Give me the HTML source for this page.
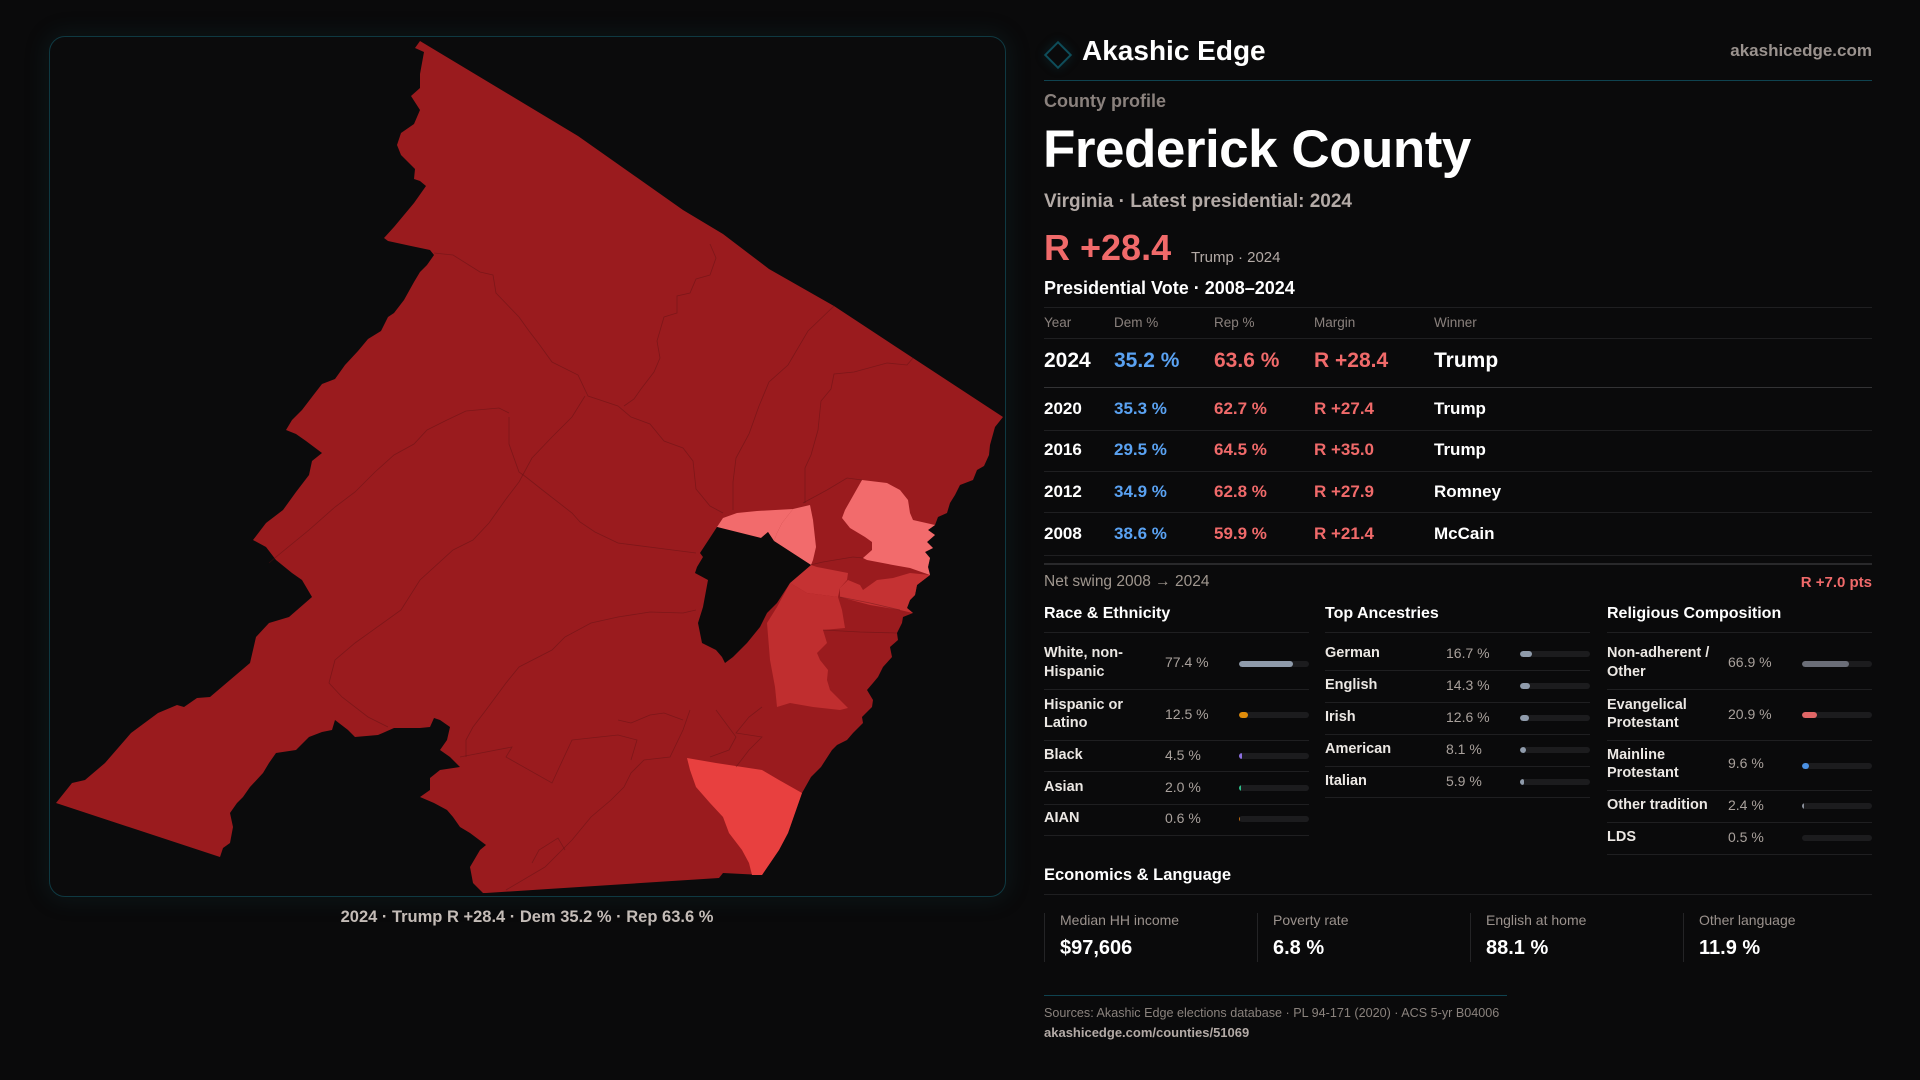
<!DOCTYPE html>
<html><head><meta charset="utf-8">
<style>
*{margin:0;padding:0;box-sizing:border-box}
html,body{width:1920px;height:1080px;background:#0a0a0b;overflow:hidden}
body{position:relative;font-family:"Liberation Sans",sans-serif;color:#fff}
.a{position:absolute;white-space:nowrap;line-height:1}
.b{font-weight:bold}
.hl{position:absolute;height:1px;background:#1f1f21}
.trk{position:absolute;height:6px;width:70px;background:#1c1c1e;border-radius:3px;overflow:hidden}
.trk i{position:absolute;left:0;top:0;height:6px;border-radius:3px}
.lab{font-size:14.5px;font-weight:bold;color:#ece8e4}
.val{font-size:14px;color:#a9a19c}
.th{font-size:13.5px;color:#8a817d}
.r2{font-size:17px;font-weight:bold}
.dem{color:#5aa2f2}
.rep{color:#f06a6a}
.sec{font-size:16px;font-weight:bold;color:#fff}
.el{font-size:14px;color:#9b928d}
.ev{font-size:20px;font-weight:bold;color:#fff}
.vb{position:absolute;top:913px;width:1px;height:49px;background:#242426}
</style></head><body>

<!-- map box -->
<div style="position:absolute;left:49px;top:36px;width:957px;height:861px;border:1px solid #0f3942;border-radius:16px;background:#0b0b0c;box-shadow:0 0 22px 4px rgba(20,70,80,0.18)"></div>

<svg style="position:absolute;left:0;top:0" width="1920" height="1080" viewBox="0 0 1920 1080">
<polygon fill="#9a1b1e" points="420,41 578,136 683,210 723,234 769,269 834,306 913,358 1003,417 995,427 990,445 989,455 984,466 977,470 973,480 960,485 955,495 950,503 947,513 938,517 935,525 928,530 935,535 927,542 933,548 925,552 930,558 928,567 930,575 917,585 915,595 910,600 907,608 913,613 903,617 902,623 897,633 898,640 890,647 892,657 883,667 878,677 873,683 867,690 873,700 872,707 862,717 863,723 853,733 847,740 837,745 832,750 821,767 811,777 802,793 788,833 779,850 762,875 723,873 719,878 486,893 483,893 473,883 470,867 480,850 486,845 470,833 460,827 453,817 447,810 434,803 420,797 430,790 430,778 440,770 460,767 450,757 440,750 447,740 450,727 440,720 434,718 430,727 420,728 394,728 378,735 355,737 348,730 335,720 332,730 322,732 309,737 296,750 276,753 269,763 263,773 250,787 243,797 237,803 230,813 233,827 230,843 223,848 220,857 56,803 72,783 85,780 105,763 131,733 158,713 177,705 184,707 197,698 210,697 250,663 256,637 269,623 289,617 312,597 302,580 292,573 276,560 266,547 253,540 266,523 283,510 296,492 309,475 312,461 322,453 306,441 296,434 286,430 292,420 302,410 315,393 322,384 335,379 345,365 358,351 368,339 381,331 388,317 394,313 404,300 414,282 420,272 427,265 434,255 430,250 411,246 388,241 384,238 394,227 404,215 414,203 426,186 420,181 414,179 415,169 401,155 397,145 401,133 414,124 420,110 411,96 420,88 420,74 424,52 415,48"/>
<!-- pink A -->
<polygon fill="#f26b6c" points="717,527 723,518 737,513 757,511 793,509 782,523 777,533 774,541 768,532 761,538"/>
<!-- pink B -->
<polygon fill="#f26b6c" points="793,509 810,505 813,520 816,547 813,560 811,565 774,541 777,533 782,523"/>
<!-- pink C -->
<polygon fill="#f26b6c" points="862,480 887,483 900,490 908,500 910,513 913,520 935,525 928,530 935,535 927,542 933,548 925,552 930,558 928,567 930,575 910,568 893,565 867,560 863,558 872,550 872,542 865,537 850,528 842,518 845,510"/>
<!-- E -->
<polygon fill="#c53233" points="811,565 817,567 848,573 847,580 840,588 838,597 807,593 790,583"/>
<!-- F -->
<polygon fill="#c53233" points="840,588 848,580 860,585 863,590 877,580 893,578 910,573 930,575 917,585 915,595 910,600 907,608 913,613 900,610 870,605 840,597"/>
<!-- G -->
<polygon fill="#c02e2f" points="790,583 807,593 838,597 842,610 845,628 823,630 827,643 817,653 820,660 828,670 827,680 830,690 837,697 848,708 840,710 813,707 790,703 777,707 775,687 770,660 767,623 777,607"/>
<!-- H -->
<polygon fill="#e8403f" points="687,758 716,763 762,770 779,780 802,793 788,833 779,850 762,875 752,875 749,863 742,850 729,833 723,817 710,803 696,787 690,770"/>
<!-- black hole -->
<polygon fill="#0b0a0a" points="717,527 761,538 768,532 774,541 811,565 790,583 777,603 767,613 760,627 747,643 733,657 725,663 722,657 716,650 702,643 698,623 703,607 708,580 695,573 697,567 703,557 700,553"/>
<g fill="none" stroke="#5a1214" stroke-width="0.8" stroke-opacity="0.45">
<polyline points="434,253 453,255 480,272 493,275 496,293 519,317 529,331 539,344 552,362 578,375 588,396 618,406 631,417 650,424 664,441 683,448 693,461 696,489 710,506 723,513"/>
<polyline points="710,244 716,258 710,275 696,279 690,293 677,296 677,313 664,317 657,341 660,358 654,372 641,389 634,399 624,406"/>
<polyline points="834,306 808,331 788,365 769,382 759,406 749,434 736,458 733,482 733,510"/>
<polyline points="913,358 907,365 887,363 854,372 834,374 831,389 821,401 818,430 811,455 805,468 805,503"/>
<polyline points="585,396 572,417 552,437 532,458 519,482 506,499 489,523 473,540 453,550 420,580 401,610 355,643 335,660 329,683 342,697 368,717 388,727"/>
<polyline points="509,413 499,408 466,411 447,420 427,430 414,444 394,455 375,472 355,492 335,507 309,530 276,557 269,563"/>
<polyline points="509,417 509,444 519,472 526,477 545,492 572,513 580,522 595,532 618,543 657,548 696,553"/>
<polyline points="696,610 683,613 650,612 618,617 591,623 565,637 552,650 519,667 506,683 486,710 473,727 466,740 466,757"/>
<polyline points="690,710 683,730 670,757 644,760 631,773 624,787 611,800 591,817 572,840 545,867 506,890"/>
<polyline points="716,710 736,737 729,750 710,757"/>
<polyline points="762,707 749,717 736,733 762,737 749,750 736,767"/>
<polyline points="572,740 618,735 637,740 631,760"/>
<polyline points="460,757 512,747 506,757 552,783 558,770 572,740"/>
<polyline points="618,720 631,723 650,715 664,713 683,720"/>
<polyline points="532,863 539,850 558,838 565,850"/>
<polyline points="803,503 827,490 847,478 862,480"/>
<polyline points="810,565 823,562 853,557 863,558"/>
<polyline points="840,597 870,603 900,610"/>
<polyline points="823,630 860,632 897,633"/>
</g>
</svg>

<div class="a b" style="left:0;width:1054px;text-align:center;top:909px;font-size:16.5px;color:#c4bcb7">2024 · Trump R +28.4 · Dem 35.2 % · Rep 63.6 %</div>

<!-- header -->
<div style="position:absolute;left:1048px;top:45px;width:20px;height:20px;border:2px solid #0e4d5a;transform:rotate(45deg);box-shadow:0 0 10px rgba(14,77,90,0.35)"></div>
<div class="a b" style="left:1082px;top:37px;font-size:28px;color:#fff">Akashic Edge</div>
<div class="a b" style="right:48px;top:41.6px;font-size:17px;color:#9a928e">akashicedge.com</div>
<div class="hl" style="left:1044px;top:80px;width:828px;background:#0f4350"></div>

<div class="a b" style="left:1044px;top:91.7px;font-size:18px;color:#8a817d">County profile</div>
<div class="a b" style="left:1043px;top:123px;font-size:53px;letter-spacing:-0.5px;color:#fff">Frederick County</div>
<div class="a b" style="left:1044px;top:191.9px;font-size:19px;color:#b3aaa6">Virginia · Latest presidential: 2024</div>
<div class="a b" style="left:1044px;top:229.5px;font-size:36px;color:#f06a6a">R +28.4</div>
<div class="a" style="left:1191px;top:250.3px;font-size:15px;color:#b3aaa6">Trump · 2024</div>
<div class="a b" style="left:1044px;top:278.8px;font-size:18px;color:#fff">Presidential Vote · 2008–2024</div>
<div class="hl" style="left:1044px;top:307px;width:828px"></div>

<!-- table -->
<div class="a th" style="left:1044px;top:315.6px">Year</div>
<div class="a th" style="left:1114px;top:315.6px">Dem %</div>
<div class="a th" style="left:1214px;top:315.6px">Rep %</div>
<div class="a th" style="left:1314px;top:315.6px">Margin</div>
<div class="a th" style="left:1434px;top:315.6px">Winner</div>
<div class="hl" style="left:1044px;top:338px;width:828px"></div>

<div class="a b" style="left:1044px;top:350.2px;font-size:21px;color:#fff">2024</div>
<div class="a b dem" style="left:1114px;top:350.2px;font-size:21px">35.2 %</div>
<div class="a b rep" style="left:1214px;top:350.2px;font-size:21px">63.6 %</div>
<div class="a b rep" style="left:1314px;top:350.2px;font-size:21px">R +28.4</div>
<div class="a b" style="left:1434px;top:350.2px;font-size:21px;color:#fff">Trump</div>
<div class="hl" style="left:1044px;top:387px;width:828px;background:#333335"></div>

<div class="a r2" style="left:1044px;top:399.6px">2020</div>
<div class="a r2 dem" style="left:1114px;top:399.6px">35.3 %</div>
<div class="a r2 rep" style="left:1214px;top:399.6px">62.7 %</div>
<div class="a r2 rep" style="left:1314px;top:399.6px">R +27.4</div>
<div class="a r2" style="left:1434px;top:399.6px">Trump</div>
<div class="hl" style="left:1044px;top:430px;width:828px"></div>

<div class="a r2" style="left:1044px;top:440.6px">2016</div>
<div class="a r2 dem" style="left:1114px;top:440.6px">29.5 %</div>
<div class="a r2 rep" style="left:1214px;top:440.6px">64.5 %</div>
<div class="a r2 rep" style="left:1314px;top:440.6px">R +35.0</div>
<div class="a r2" style="left:1434px;top:440.6px">Trump</div>
<div class="hl" style="left:1044px;top:471px;width:828px"></div>

<div class="a r2" style="left:1044px;top:482.6px">2012</div>
<div class="a r2 dem" style="left:1114px;top:482.6px">34.9 %</div>
<div class="a r2 rep" style="left:1214px;top:482.6px">62.8 %</div>
<div class="a r2 rep" style="left:1314px;top:482.6px">R +27.9</div>
<div class="a r2" style="left:1434px;top:482.6px">Romney</div>
<div class="hl" style="left:1044px;top:512px;width:828px"></div>

<div class="a r2" style="left:1044px;top:524.6px">2008</div>
<div class="a r2 dem" style="left:1114px;top:524.6px">38.6 %</div>
<div class="a r2 rep" style="left:1214px;top:524.6px">59.9 %</div>
<div class="a r2 rep" style="left:1314px;top:524.6px">R +21.4</div>
<div class="a r2" style="left:1434px;top:524.6px">McCain</div>
<div class="hl" style="left:1044px;top:555px;width:828px"></div>
<div class="hl" style="left:1044px;top:563px;width:828px;height:2px;background:#29292b"></div>

<div class="a" style="left:1044px;top:574.4px;font-size:15.5px;color:#a0978f">Net swing 2008 → 2024</div>
<div class="a b" style="right:48px;top:574.8px;font-size:15px;color:#f06a6a">R +7.0 pts</div>

<!-- sections -->
<div class="a sec" style="left:1044px;top:605.5px">Race &amp; Ethnicity</div>
<div class="a sec" style="left:1325px;top:605.5px">Top Ancestries</div>
<div class="a sec" style="left:1607px;top:605.5px">Religious Composition</div>

<!-- col1 lines -->
<div class="hl" style="left:1044px;width:265px;top:632px"></div>
<div class="hl" style="left:1044px;width:265px;top:689px"></div>
<div class="hl" style="left:1044px;width:265px;top:740px"></div>
<div class="hl" style="left:1044px;width:265px;top:771px"></div>
<div class="hl" style="left:1044px;width:265px;top:804px"></div>
<div class="hl" style="left:1044px;width:265px;top:835px"></div>

<div class="a lab" style="left:1044px;top:645.7px">White, non-</div>
<div class="a lab" style="left:1044px;top:664.7px">Hispanic</div>
<div class="a val" style="left:1165px;top:655.2px">77.4 %</div>
<div class="trk" style="left:1239px;top:661px"><i style="width:54px;background:#8f9bab"></i></div>

<div class="a lab" style="left:1044px;top:697.7px">Hispanic or</div>
<div class="a lab" style="left:1044px;top:715.7px">Latino</div>
<div class="a val" style="left:1165px;top:707.2px">12.5 %</div>
<div class="trk" style="left:1239px;top:712px"><i style="width:9px;background:#e08c0a"></i></div>

<div class="a lab" style="left:1044px;top:747.7px">Black</div>
<div class="a val" style="left:1165px;top:748.2px">4.5 %</div>
<div class="trk" style="left:1239px;top:753px"><i style="width:3px;border-radius:1px;background:#8c6fe0"></i></div>

<div class="a lab" style="left:1044px;top:779.7px">Asian</div>
<div class="a val" style="left:1165px;top:780.2px">2.0 %</div>
<div class="trk" style="left:1239px;top:785px"><i style="width:2px;border-radius:1px;background:#2ebf8a"></i></div>

<div class="a lab" style="left:1044px;top:810.7px">AIAN</div>
<div class="a val" style="left:1165px;top:811.2px">0.6 %</div>
<div class="trk" style="left:1239px;top:816px"><i style="width:1px;border-radius:0;background:#c06a10"></i></div>

<!-- col2 -->
<div class="hl" style="left:1325px;width:265px;top:632px"></div>
<div class="hl" style="left:1325px;width:265px;top:670px"></div>
<div class="hl" style="left:1325px;width:265px;top:702px"></div>
<div class="hl" style="left:1325px;width:265px;top:734px"></div>
<div class="hl" style="left:1325px;width:265px;top:766px"></div>
<div class="hl" style="left:1325px;width:265px;top:797px"></div>

<div class="a lab" style="left:1325px;top:645.7px">German</div>
<div class="a val" style="left:1446px;top:646.2px">16.7 %</div>
<div class="trk" style="left:1520px;top:651px"><i style="width:11.7px;background:#8f9bab"></i></div>
<div class="a lab" style="left:1325px;top:677.7px">English</div>
<div class="a val" style="left:1446px;top:678.2px">14.3 %</div>
<div class="trk" style="left:1520px;top:683px"><i style="width:10px;background:#8f9bab"></i></div>
<div class="a lab" style="left:1325px;top:709.7px">Irish</div>
<div class="a val" style="left:1446px;top:710.2px">12.6 %</div>
<div class="trk" style="left:1520px;top:715px"><i style="width:8.8px;background:#8f9bab"></i></div>
<div class="a lab" style="left:1325px;top:741.7px">American</div>
<div class="a val" style="left:1446px;top:742.2px">8.1 %</div>
<div class="trk" style="left:1520px;top:747px"><i style="width:5.7px;background:#8f9bab"></i></div>
<div class="a lab" style="left:1325px;top:773.7px">Italian</div>
<div class="a val" style="left:1446px;top:774.2px">5.9 %</div>
<div class="trk" style="left:1520px;top:779px"><i style="width:4.1px;background:#8f9bab"></i></div>

<!-- col3 -->
<div class="hl" style="left:1607px;width:265px;top:632px"></div>
<div class="hl" style="left:1607px;width:265px;top:689px"></div>
<div class="hl" style="left:1607px;width:265px;top:740px"></div>
<div class="hl" style="left:1607px;width:265px;top:790px"></div>
<div class="hl" style="left:1607px;width:265px;top:822px"></div>
<div class="hl" style="left:1607px;width:265px;top:854px"></div>

<div class="a lab" style="left:1607px;top:645.7px">Non-adherent /</div>
<div class="a lab" style="left:1607px;top:664.7px">Other</div>
<div class="a val" style="left:1728px;top:655.2px">66.9 %</div>
<div class="trk" style="left:1802px;top:661px"><i style="width:46.8px;background:#6b6e78"></i></div>

<div class="a lab" style="left:1607px;top:697.7px">Evangelical</div>
<div class="a lab" style="left:1607px;top:715.7px">Protestant</div>
<div class="a val" style="left:1728px;top:707.2px">20.9 %</div>
<div class="trk" style="left:1802px;top:712px"><i style="width:14.6px;background:#e06666"></i></div>

<div class="a lab" style="left:1607px;top:747.7px">Mainline</div>
<div class="a lab" style="left:1607px;top:765.7px">Protestant</div>
<div class="a val" style="left:1728px;top:756.2px">9.6 %</div>
<div class="trk" style="left:1802px;top:763px"><i style="width:6.7px;background:#4a90e2"></i></div>

<div class="a lab" style="left:1607px;top:797.7px">Other tradition</div>
<div class="a val" style="left:1728px;top:798.2px">2.4 %</div>
<div class="trk" style="left:1802px;top:803px"><i style="width:2px;border-radius:1px;background:#8a8f9a"></i></div>

<div class="a lab" style="left:1607px;top:829.7px">LDS</div>
<div class="a val" style="left:1728px;top:830.2px">0.5 %</div>
<div class="trk" style="left:1802px;top:835px"></div>

<!-- economics -->
<div class="a b" style="left:1044px;top:867px;font-size:16.5px;color:#fff">Economics &amp; Language</div>
<div class="hl" style="left:1044px;top:894px;width:828px"></div>
<div class="vb" style="left:1044px"></div>
<div class="vb" style="left:1257px"></div>
<div class="vb" style="left:1470px"></div>
<div class="vb" style="left:1683px"></div>
<div class="a el" style="left:1060px;top:913.2px">Median HH income</div>
<div class="a el" style="left:1273px;top:913.2px">Poverty rate</div>
<div class="a el" style="left:1486px;top:913.2px">English at home</div>
<div class="a el" style="left:1699px;top:913.2px">Other language</div>
<div class="a ev" style="left:1060px;top:937.6px">$97,606</div>
<div class="a ev" style="left:1273px;top:937.6px">6.8 %</div>
<div class="a ev" style="left:1486px;top:937.6px">88.1 %</div>
<div class="a ev" style="left:1699px;top:937.6px">11.9 %</div>

<!-- footer -->
<div class="hl" style="left:1044px;top:995px;width:463px;background:#0f4350"></div>
<div class="a" style="left:1044px;top:1006.5px;font-size:12.6px;color:#8a827d">Sources: Akashic Edge elections database · PL 94-171 (2020) · ACS 5-yr B04006</div>
<div class="a b" style="left:1044px;top:1026px;font-size:13px;color:#b3aaa6">akashicedge.com/counties/51069</div>

</body></html>
